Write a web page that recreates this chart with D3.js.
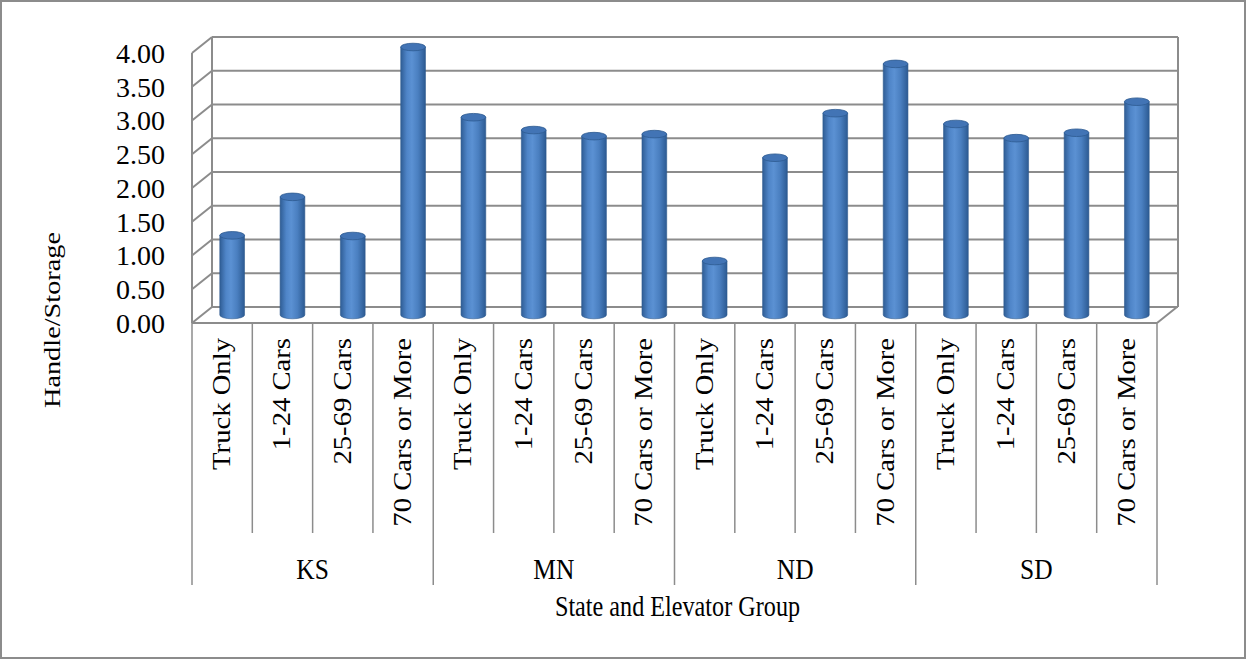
<!DOCTYPE html>
<html>
<head>
<meta charset="utf-8">
<script src="https://cdn.jsdelivr.net/npm/d3@7"></script>
<style>
  html, body { margin: 0; padding: 0; background: #fff; }
  svg { display: block; }
  text { font-family: "Liberation Serif", "Times New Roman", serif; fill: #000; }
</style>
</head>
<body>
<svg id="chart" width="1249" height="661"></svg>
<script>
// ---- data ----
const states = ["KS", "MN", "ND", "SD"];
const groups = ["Truck Only", "1-24 Cars", "25-69 Cars", "70 Cars or More"];
const ksValues = [1.18, 1.75, 1.17, 3.97];
const mnValues = [2.93, 2.74, 2.65, 2.68];
const ndValues = [0.80, 2.33, 2.99, 3.72];
const sdValues = [2.83, 2.62, 2.70, 3.16];
const yTicks = [0, 0.5, 1, 1.5, 2, 2.5, 3, 3.5, 4];
const yTitle = "Handle/Storage";
const xTitle = "State and Elevator Group";

const seriesByState = [ksValues, mnValues, ndValues, sdValues];
const rows = [];
states.forEach((s, si) => groups.forEach((g, gi) => rows.push({ state: s, group: g, key: s + "|" + g, value: seriesByState[si][gi] })));

// ---- layout ----
const svg = d3.select("#chart");
const front = { left: 192, right: 1157, top: 53, bottom: 323 };
const depth = { dx: 20, dy: -16 };
const gridColor = "#8c8c8c";
const stretch = 1.18; // vertical stretch of text seen in the reference

const x = d3.scaleBand().domain(rows.map(d => d.key)).range([front.left, front.right]).paddingInner(0).paddingOuter(0);
const y = d3.scaleLinear().domain([0, 4]).range([front.bottom, front.top]);

// outer border
svg.append("rect").attr("x", 1).attr("y", 1).attr("width", 1244).attr("height", 657)
  .attr("fill", "#fff").attr("stroke", gridColor).attr("stroke-width", 2);

const walls = svg.append("g").attr("stroke", gridColor).attr("stroke-width", 2).attr("fill", "none");
const bx0 = front.left + depth.dx, bx1 = front.right + depth.dx;

// back wall gridlines and left wall diagonals
yTicks.forEach(t => {
  const yb = y(t) + depth.dy;
  walls.append("line").attr("x1", bx0).attr("x2", bx1 + 1).attr("y1", yb).attr("y2", yb);
  walls.append("line").attr("x1", front.left).attr("y1", y(t)).attr("x2", bx0).attr("y2", yb);
});
walls.append("line").attr("x1", bx0).attr("x2", bx0).attr("y1", y(4) + depth.dy).attr("y2", y(0) + depth.dy);
walls.append("line").attr("x1", bx1 + 1).attr("x2", bx1 + 1).attr("y1", y(4) + depth.dy).attr("y2", y(0) + depth.dy);
walls.append("line").attr("x1", front.left).attr("x2", front.left).attr("y1", y(4)).attr("y2", y(0));
walls.append("line").attr("x1", front.left).attr("x2", front.right).attr("y1", y(0)).attr("y2", y(0));
walls.append("line").attr("x1", front.right).attr("y1", y(0)).attr("x2", front.right + depth.dx).attr("y2", y(0) + depth.dy);

// ---- cylinders ----
const defs = svg.append("defs");
const grad = defs.append("linearGradient").attr("id", "cyl").attr("x1", "0%").attr("x2", "100%").attr("y1", "0%").attr("y2", "0%");
[["0%", "#2f5d95"], ["25%", "#4f85c8"], ["45%", "#5b91d3"], ["70%", "#4a7fc0"], ["100%", "#2c5a92"]]
  .forEach(([o, c]) => grad.append("stop").attr("offset", o).attr("stop-color", c));

const barW = x.bandwidth() * 0.41;
const rx = barW / 2, ry = 3.8;
const mid = { dx: depth.dx / 2, dy: depth.dy / 2 };
const bars = svg.append("g");
rows.forEach(d => {
  const cx = x(d.key) + x.bandwidth() / 2 + mid.dx;
  const yTop = y(d.value) + mid.dy;
  const yBot = y(0) + mid.dy;
  const g = bars.append("g");
  g.append("path")
    .attr("d", `M${cx - rx},${yTop} L${cx - rx},${yBot} A${rx},${ry} 0 0 0 ${cx + rx},${yBot} L${cx + rx},${yTop} Z`)
    .attr("fill", "url(#cyl)").attr("stroke", "#2f5b8f").attr("stroke-width", 0.6);
  g.append("ellipse").attr("cx", cx).attr("cy", yTop).attr("rx", rx).attr("ry", ry)
    .attr("fill", "#4274b5").attr("stroke", "#2d5a90").attr("stroke-width", 0.8);
});

// ---- y axis labels ----
svg.append("g").selectAll("text").data(yTicks).join("text")
  .attr("x", 165).attr("y", d => y(d)).attr("dy", "0.35em")
  .attr("text-anchor", "end").style("font-size", "28px")
  .text(d => d.toFixed(2));

svg.append("text").attr("transform", `translate(52,320) rotate(-90) scale(${stretch},1)`)
  .attr("text-anchor", "middle").attr("dy", "0.33em").style("font-size", "24px").text(yTitle);

// ---- x axis (two levels) ----
const sep = svg.append("g").attr("stroke", gridColor).attr("stroke-width", 1.5);
rows.forEach((d, i) => {
  const xx = x(d.key);
  sep.append("line").attr("x1", xx).attr("x2", xx).attr("y1", y(0)).attr("y2", i % groups.length === 0 ? 585 : 533);
});
sep.append("line").attr("x1", front.right).attr("x2", front.right).attr("y1", y(0)).attr("y2", 585);

svg.append("g").selectAll("text").data(rows).join("text")
  .attr("transform", d => `translate(${x(d.key) + x.bandwidth() / 2},338) rotate(-90) scale(${stretch},1)`)
  .attr("text-anchor", "end").attr("dy", "0.33em").style("font-size", "24.3px")
  .text(d => d.group);

svg.append("g").selectAll("text").data(states).join("text")
  .attr("transform", s => {
    const keys = rows.filter(r => r.state === s).map(r => r.key);
    const cx = (x(keys[0]) + x(keys[keys.length - 1]) + x.bandwidth()) / 2;
    return `translate(${cx},568) scale(1,${stretch})`;
  })
  .attr("dy", "0.35em").attr("text-anchor", "middle").style("font-size", "25.5px")
  .text(s => s);

svg.append("text").attr("transform", `translate(${(front.left + front.right) / 2 + 3},616) scale(1,${stretch})`)
  .attr("text-anchor", "middle").style("font-size", "24.2px").text(xTitle);
</script>
</body>
</html>
